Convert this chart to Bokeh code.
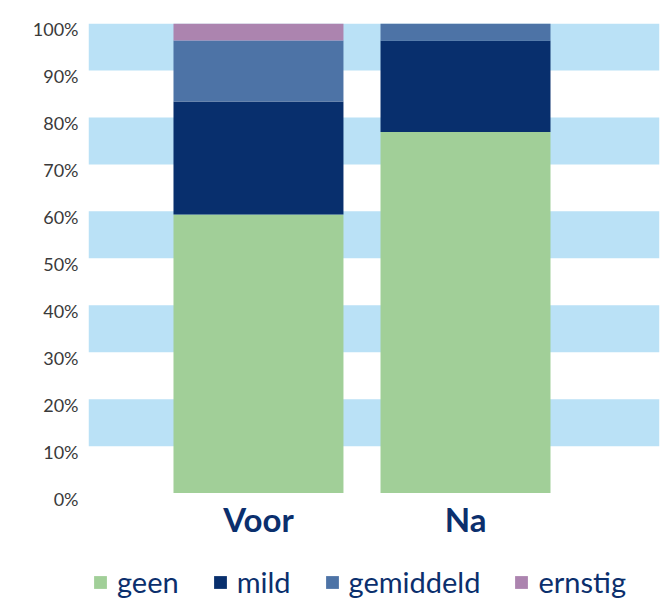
from bokeh.plotting import figure
from bokeh.models import (Range1d, FixedTicker, Legend, LegendItem, ColumnDataSource,
                          BoxAnnotation, LinearAxis)
from bokeh.core.properties import value
from bokeh.embed import file_html
from bokeh.resources import INLINE

categories = ["Voor", "Na"]
series = ["geen", "mild", "gemiddeld", "ernstig"]
geen = [59.3, 76.9]
mild = [24.1, 19.5]
gemiddeld = [13.0, 3.6]
ernstig = [3.6, 0.0]
colors = ["#A1CF98", "#082F6D", "#4D73A6", "#AC84AF"]
y_ticks = [0, 10, 20, 30, 40, 50, 60, 70, 80, 90, 100]
y_labels = ["0%", "10%", "20%", "30%", "40%", "50%", "60%", "70%", "80%", "90%", "100%"]

xs = list(range(len(categories)))
zeros = [0] * len(categories)
source = ColumnDataSource(dict(x=xs, base=zeros, cat=categories, geen=geen, mild=mild,
                               gemiddeld=gemiddeld, ernstig=ernstig))

Y0, Y1 = -23.3, 100
p = figure(width=669, height=602, output_backend="svg", toolbar_location=None,
           x_range=Range1d(-0.821, 1.937), y_range=Range1d(Y0, Y1),
           min_border_left=88, min_border_right=10, min_border_top=23, min_border_bottom=0,
           y_axis_location=None)
p.outline_line_color = None
p.background_fill_color = "white"
p.xaxis.visible = False
p.xgrid.visible = False
p.ygrid.visible = False

# alternating light-blue bands between every other pair of ticks
for lo, hi in zip(y_ticks[1::2], y_ticks[2::2]):
    p.add_layout(BoxAnnotation(bottom=lo, top=hi, fill_color="#BAE1F6", fill_alpha=1.0,
                               line_color=None, level="underlay"))

renderers = p.vbar_stack(series, x="x", width=0.821, source=source, color=colors, line_color=None)

# category labels under the bars
p.text(x="x", y="base", text="cat", source=source, text_font=value("Lato"),
       text_font_style="bold", text_font_size="33px", text_color="#0B2F6D",
       text_align="center", text_baseline="top", y_offset=6)

# y axis (labels sit slightly below their gridline, as in the original)
shift = 1.2
p.extra_y_ranges = {"lab": Range1d(Y0 + shift, Y1 + shift)}
ya = LinearAxis(y_range_name="lab", ticker=FixedTicker(ticks=y_ticks))
ya.major_label_overrides = {t: l for t, l in zip(y_ticks, y_labels)}
ya.axis_line_color = None
ya.major_tick_line_color = None
ya.minor_tick_line_color = None
ya.major_tick_out = 0
ya.major_tick_in = 0
ya.major_label_standoff = 10
ya.major_label_text_font = "Lato"
ya.major_label_text_font_size = "18px"
ya.major_label_text_color = "#3A3A3A"
p.add_layout(ya, "left")

legend = Legend(items=[LegendItem(label=s, renderers=[r]) for s, r in zip(series, renderers)],
                orientation="horizontal", location=(4, 3),
                label_text_font="Lato", label_text_font_size="29px", label_text_color="#0B2F6D",
                glyph_width=16, glyph_height=16, label_standoff=9, spacing=33,
                padding=0, margin=0, border_line_color=None, background_fill_alpha=0)
p.add_layout(legend, "center")

open("out.html", "w").write(file_html(p, INLINE))
